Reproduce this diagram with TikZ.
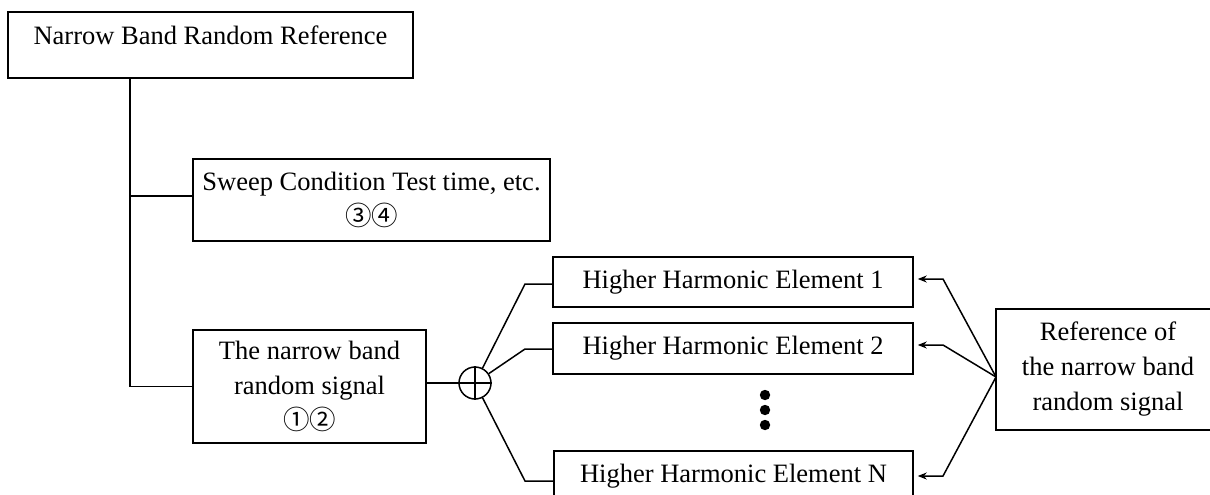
\documentclass[tikz,border=0pt]{standalone}
\usepackage{fontspec}
\setmainfont{Liberation Serif}
\newfontfamily\circfont{Noto Sans CJK JP}
\usetikzlibrary{arrows.meta}
\tikzset{
  box/.style={draw, line width=1.5pt, align=center, inner sep=0pt,
    font=\fontsize{26.5}{35}\selectfont},
  conn/.style={line width=1.5pt},
  arr/.style={line width=1.5pt, -{Stealth[length=9pt,width=7pt]}}
}
\begin{document}
\begin{tikzpicture}[x=1pt,y=-1pt]
\clip (0,0) rectangle (1210,495);
\fill[white] (0,0) rectangle (1210,495);

\node[box, minimum width=405pt, text height=33pt, text depth=33pt] (top) at (210.5,45) {Narrow Band Random Reference};
\node[box, minimum width=357pt, minimum height=82pt] (sweep) at (371.5,200)
  {Sweep Condition Test time, etc.\\{\circfont ③④}};
\node[box, minimum width=233pt, minimum height=113pt] (sig) at (309.5,386.5)
  {The narrow band\\random signal\\{\circfont ①②}};
\node[draw, circle, line width=1.5pt, minimum size=32pt, inner sep=0pt] (sum) at (475,383) {};
\draw[conn] (sum.north) -- (sum.south) (sum.west) -- (sum.east);

\node[box, minimum width=360pt, minimum height=50pt] (e1) at (733,282) {Higher Harmonic Element 1};
\node[box, minimum width=360pt, minimum height=51pt] (e2) at (733,348.5) {Higher Harmonic Element 2};
\node[box, minimum width=359pt, minimum height=50pt] (en) at (733.5,476) {Higher Harmonic Element N};
\node[box, minimum width=224pt, minimum height=121pt] (ref) at (1108,369.5)
  {Reference of\\the narrow band\\random signal};

\fill (765,395) circle (5.2pt) (765,410) circle (5.2pt) (765,425) circle (5.2pt);

\coordinate (trunk) at (130,0);
\coordinate (sweepin) at ([yshift=4pt]sweep.west);
\draw[conn] (top.south -| trunk) -- (trunk |- sig.west) -- (sig.west);
\draw[conn] (trunk |- sweepin) -- (sweepin);
\draw[conn] (sum.west -| sig.east) -- (sum.west);

\coordinate (b1) at (525,284);
\coordinate (b2) at (525,349);
\coordinate (bn) at (525,481);
\draw[conn] (sum) -- (b1) -- (b1 -| e1.west);
\draw[conn] (sum) -- (b2) -- (b2 -| e2.west);
\draw[conn] (sum) -- (bn) -- (bn -| en.west);

\coordinate (conv) at (996,377);
\coordinate (a1) at (943,279);
\coordinate (a2) at (943,345);
\coordinate (an) at (943,476);
\draw[arr] (conv) -- (a1) -- ([xshift=4pt]e1.east |- a1);
\draw[arr] (conv) -- (a2) -- ([xshift=4pt]e2.east |- a2);
\draw[arr] (conv) -- (an) -- ([xshift=4pt]en.east |- an);
\end{tikzpicture}
\end{document}
